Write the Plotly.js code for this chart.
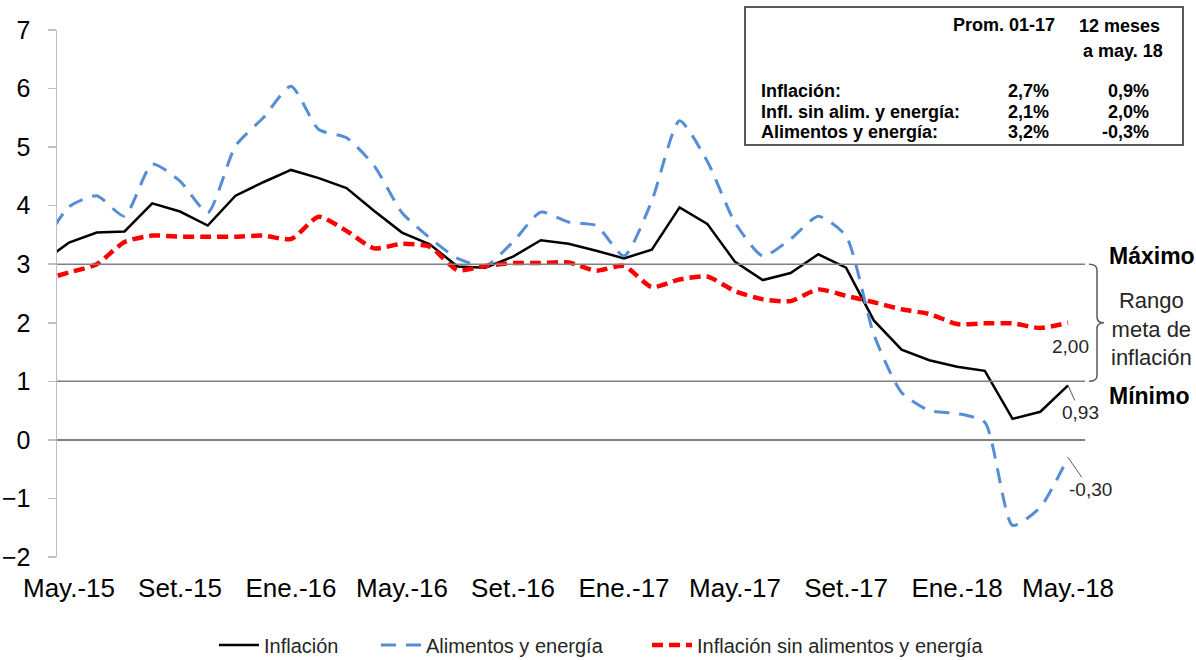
<!DOCTYPE html>
<html><head><meta charset="utf-8">
<script src="https://cdn.plot.ly/plotly-3.0.1.min.js"></script>
<style>html,body{margin:0;padding:0;background:#fff}</style>
</head><body><div id="chart" style="width:1196px;height:660px"></div>
<script>
const months = ['Abr.-15','May.-15','Jun.-15','Jul.-15','Ago.-15','Set.-15','Oct.-15','Nov.-15','Dic.-15',
  'Ene.-16','Feb.-16','Mar.-16','Abr.-16','May.-16','Jun.-16','Jul.-16','Ago.-16','Set.-16','Oct.-16','Nov.-16','Dic.-16',
  'Ene.-17','Feb.-17','Mar.-17','Abr.-17','May.-17','Jun.-17','Jul.-17','Ago.-17','Set.-17','Oct.-17','Nov.-17','Dic.-17',
  'Ene.-18','Feb.-18','Mar.-18','Abr.-18','May.-18'];
const inflacion = [3.02,3.37,3.54,3.56,4.04,3.90,3.66,4.17,4.40,
  4.61,4.47,4.30,3.91,3.54,3.34,2.96,2.94,3.13,3.41,3.35,3.23,
  3.10,3.25,3.97,3.69,3.04,2.73,2.85,3.17,2.94,2.04,1.54,1.36,
  1.25,1.18,0.36,0.48,0.93];
const alimentosEnergia = [3.28,3.98,4.17,3.82,4.71,4.42,3.88,5.02,5.50,
  6.04,5.30,5.16,4.68,3.88,3.45,3.10,2.97,3.38,3.89,3.72,3.66,
  3.14,4.08,5.45,4.76,3.71,3.14,3.43,3.82,3.48,1.80,0.81,0.50,
  0.45,0.30,-1.46,-1.15,-0.30];
const sinAlimentosEnergia = [2.72,2.86,3.00,3.38,3.49,3.47,3.47,3.47,3.49,
  3.43,3.81,3.57,3.27,3.35,3.30,2.90,2.97,3.02,3.02,3.03,2.89,
  2.97,2.61,2.74,2.79,2.54,2.40,2.37,2.57,2.46,2.35,2.23,2.15,
  1.98,1.99,1.99,1.91,2.00];
const tickLabels = ['May.-15','Set.-15','Ene.-16','May.-16','Set.-16','Ene.-17','May.-17','Set.-17','Ene.-18','May.-18'];
const seriesNames = ['Inflación','Alimentos y energía','Inflación sin alimentos y energía'];
const metaMax = 3, metaMin = 1;
const tableHeaders = ['Prom. 01-17','12 meses','a may. 18'];
const tableRows = ['Inflación:','Infl. sin alim. y energía:','Alimentos y energía:'];
const tableProm = ['2,7%','2,1%','3,2%'];
const table12m = ['0,9%','2,0%','-0,3%'];

// layout helpers (pixel -> paper)
const L = 57, R = 1085, T = 30, B = 557;
const px = p => (p - L) / (R - L);
const py = p => (B - p) / (B - T);
const fmt = v => v.toFixed(2).replace('.', ',');
const FONT = 'Liberation Sans, Arial, sans-serif';
const last = months[months.length - 1];
const n = months.length;

const traces = [
  {x: months, y: inflacion, name: seriesNames[0], type: 'scatter', mode: 'lines',
   line: {color: '#000000', width: 2.5}, legend: 'legend'},
  {x: months, y: alimentosEnergia, name: seriesNames[1], type: 'scatter', mode: 'lines',
   line: {color: '#558ED5', width: 3, dash: '15px,10px', shape: 'spline', smoothing: 0.6}, legend: 'legend2'},
  {x: months, y: sinAlimentosEnergia, name: seriesNames[2], type: 'scatter', mode: 'lines',
   line: {color: '#FF0000', width: 4.5, dash: '11px,6px', shape: 'spline', smoothing: 0.6}, legend: 'legend3'}
];

const shapes = [
  {type: 'line', xref: 'paper', yref: 'y', x0: 0, x1: 1, y0: metaMax, y1: metaMax, line: {color: '#808080', width: 1.5}},
  {type: 'line', xref: 'paper', yref: 'y', x0: 0, x1: 1, y0: metaMin, y1: metaMin, line: {color: '#808080', width: 1.5}},
  {type: 'rect', xref: 'paper', yref: 'paper', x0: px(745), x1: px(1183), y0: py(145), y1: py(7),
   line: {color: '#595959', width: 2}, fillcolor: 'rgba(255,255,255,1)'}
];
// curly brace for the target range
(function(){
  const xL = px(1089), xM = px(1097), xR = px(1104);
  const mid = (metaMax + metaMin) / 2, d = 0.1;
  const path = `M${xL},${metaMax} Q${xM},${metaMax} ${xM},${metaMax-d} L${xM},${mid+d} Q${xM},${mid} ${xR},${mid} ` +
               `Q${xM},${mid} ${xM},${mid-d} L${xM},${metaMin+d} Q${xM},${metaMin} ${xL},${metaMin}`;
  shapes.push({type: 'path', xref: 'paper', yref: 'y', path: path, line: {color: '#595959', width: 1.5}});
})();

const annFont = {family: FONT, size: 19, color: '#262626'};
const tblFont = {family: FONT, size: 18, color: '#000000'};
const annotations = [
  {xref: 'paper', yref: 'y', x: px(1107), y: metaMax, yshift: 8, xanchor: 'left', yanchor: 'middle', showarrow: false,
   text: '<b>Máximo</b>', font: {family: FONT, size: 23, color: '#000'}},
  {xref: 'paper', yref: 'y', x: px(1107), y: metaMin, yshift: -15, xanchor: 'left', yanchor: 'middle', showarrow: false,
   text: '<b>Mínimo</b>', font: {family: FONT, size: 23, color: '#000'}},
  {xref: 'paper', yref: 'y', x: px(1151), y: (metaMax + metaMin) / 2, yshift: -6, xanchor: 'center', yanchor: 'middle', showarrow: false,
   text: 'Rango<br>meta de<br>inflación', align: 'center', font: {family: FONT, size: 22, color: '#262626'}},
  {xref: 'x', yref: 'y', x: last, y: sinAlimentosEnergia[n-1], xshift: 2, yshift: -24, showarrow: false,
   text: fmt(sinAlimentosEnergia[n-1]), font: annFont},
  {xref: 'x', yref: 'y', x: last, y: inflacion[n-1], showarrow: true, arrowhead: 0, arrowwidth: 1, arrowcolor: '#595959',
   ax: 12, ay: 27, standoff: 0, text: fmt(inflacion[n-1]), font: annFont},
  {xref: 'x', yref: 'y', x: last, y: alimentosEnergia[n-1], showarrow: true, arrowhead: 0, arrowwidth: 1, arrowcolor: '#595959',
   ax: 22, ay: 32, standoff: 0, text: fmt(alimentosEnergia[n-1]), font: annFont},
  // table
  {xref: 'paper', yref: 'paper', x: px(1057), y: py(25), xanchor: 'right', yanchor: 'middle', showarrow: false,
   text: '<b>' + tableHeaders[0] + '</b>', font: tblFont},
  {xref: 'paper', yref: 'paper', x: px(1162), y: py(26), xanchor: 'right', yanchor: 'middle', showarrow: false,
   text: '<b>' + tableHeaders[1] + '</b>', font: tblFont},
  {xref: 'paper', yref: 'paper', x: px(1165), y: py(51), xanchor: 'right', yanchor: 'middle', showarrow: false,
   text: '<b>' + tableHeaders[2] + '</b>', font: tblFont}
];
const rowY = [91, 112, 132];
tableRows.forEach((r, i) => {
  annotations.push({xref: 'paper', yref: 'paper', x: px(759), y: py(rowY[i]), xanchor: 'left', yanchor: 'middle', showarrow: false,
    text: '<b>' + r + '</b>', font: tblFont});
  annotations.push({xref: 'paper', yref: 'paper', x: px(1051), y: py(rowY[i]), xanchor: 'right', yanchor: 'middle', showarrow: false,
    text: '<b>' + tableProm[i] + '</b>', font: tblFont});
  annotations.push({xref: 'paper', yref: 'paper', x: px(1151), y: py(rowY[i]), xanchor: 'right', yanchor: 'middle', showarrow: false,
    text: '<b>' + table12m[i] + '</b>', font: tblFont});
});

const legFont = {family: FONT, size: 20, color: '#262626'};
const legBase = {orientation: 'h', yanchor: 'middle', y: py(645), xanchor: 'left', font: legFont, bgcolor: 'rgba(0,0,0,0)', itemwidth: 40};

const layout = {
  width: 1196, height: 660,
  margin: {l: L, r: 1196 - R, t: T, b: 660 - B, autoexpand: false},
  paper_bgcolor: '#ffffff', plot_bgcolor: '#ffffff',
  showlegend: true,
  legend: Object.assign({}, legBase, {x: px(214)}),
  legend2: Object.assign({}, legBase, {x: px(376)}),
  legend3: Object.assign({}, legBase, {x: px(647)}),
  xaxis: {type: 'category', categoryorder: 'array', categoryarray: months,
    range: [0.568, 37.61], tickmode: 'array', tickvals: tickLabels, ticktext: tickLabels,
    showgrid: false, showline: false, zeroline: false, ticks: '', ticklabelstandoff: 13,
    tickfont: {family: FONT, size: 26, color: '#000'}},
  yaxis: {range: [-2, 7], tickmode: 'linear', tick0: 0, dtick: 1,
    showgrid: false, showline: true, linecolor: '#bfbfbf', linewidth: 1.5,
    ticks: 'outside', ticklen: 8, tickcolor: '#bfbfbf', tickwidth: 1.5, ticklabelstandoff: 12,
    zeroline: true, zerolinecolor: '#808080', zerolinewidth: 1.5,
    tickfont: {family: FONT, size: 25, color: '#000'}},
  shapes: shapes,
  annotations: annotations
};

Plotly.newPlot('chart', traces, layout, {displayModeBar: false, staticPlot: true});
</script>
</body></html>
